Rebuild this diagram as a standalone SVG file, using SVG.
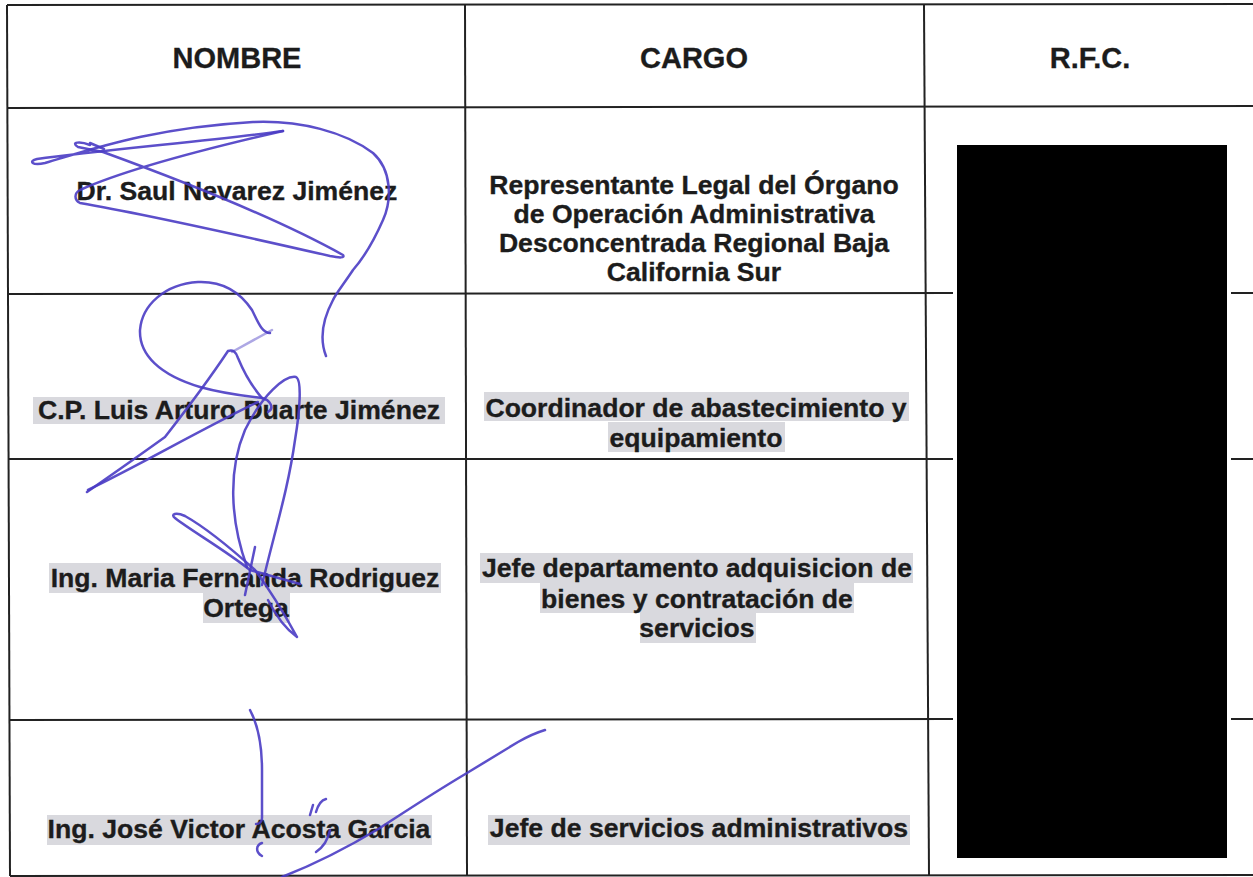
<svg xmlns="http://www.w3.org/2000/svg" width="1253" height="877" viewBox="0 0 1253 877">
<style>
.hd{font-family:"Liberation Sans",Arial,sans-serif;font-weight:bold;font-size:29px;fill:#1c1c1c;stroke:#1c1c1c;stroke-width:0.3;text-anchor:middle}
.tx{font-family:"Liberation Sans",Arial,sans-serif;font-weight:bold;font-size:26.6px;fill:#1c1c1c;stroke:#1c1c1c;stroke-width:0.35;text-anchor:middle}
.ln{stroke:#222;stroke-width:2;fill:none}
.hl{fill:#d9d9de}
.sig{stroke:#4a3cc4;stroke-width:2.5;fill:none;stroke-linecap:round;stroke-linejoin:round;opacity:0.9}
</style>
<rect width="1253" height="877" fill="#fff"/>
<g id="grid">
<path class="ln" d="M7,5 L1253,4"/>
<path class="ln" d="M7,108 L1253,106"/>
<path class="ln" d="M8,294 L953,293 M1231,293 L1253,293"/>
<path class="ln" d="M8,459 L953,459 M1231,459 L1253,459"/>
<path class="ln" d="M9,720 L953,719 M1231,719 L1253,719"/>
<path class="ln" d="M10,876 L1253,875"/>
<path class="ln" d="M7,5 L10,876"/>
<path class="ln" d="M465,5 L467,876"/>
<path class="ln" d="M924,5 L929,876"/>
</g>
<g id="header">
<text class="hd" x="237" y="68">NOMBRE</text>
<text class="hd" x="694" y="68">CARGO</text>
<text class="hd" x="1090" y="68">R.F.C.</text>
</g>
<g id="highlights">
<rect class="hl" x="33" y="397" width="412" height="27"/>
<rect class="hl" x="484" y="392" width="425" height="29"/>
<rect class="hl" x="608" y="422" width="177" height="30"/>
<rect class="hl" x="49" y="563" width="392" height="30"/>
<rect class="hl" x="203" y="593" width="87" height="30"/>
<rect class="hl" x="480" y="553" width="433" height="30"/>
<rect class="hl" x="540" y="583" width="314" height="30"/>
<rect class="hl" x="640" y="613" width="116" height="30"/>
<rect class="hl" x="47" y="815" width="385" height="30"/>
<rect class="hl" x="488" y="815" width="422" height="30"/>
</g>
<g id="row1">
<text class="tx" x="237" y="200">Dr. Saul Nevarez Jiménez</text>
<text class="tx" x="694" y="194">Representante Legal del Órgano</text>
<text class="tx" x="694" y="223">de Operación Administrativa</text>
<text class="tx" x="694" y="252">Desconcentrada Regional Baja</text>
<text class="tx" x="694" y="281">California Sur</text>
</g>
<g id="row2">
<text class="tx" x="239" y="419">C.P. Luis Arturo Duarte Jiménez</text>
<text class="tx" x="696" y="417">Coordinador de abastecimiento y</text>
<text class="tx" x="696" y="447">equipamiento</text>
</g>
<g id="row3">
<text class="tx" x="245" y="587">Ing. Maria Fernanda Rodriguez</text>
<text class="tx" x="246" y="617">Ortega</text>
<text class="tx" x="697" y="577">Jefe departamento adquisicion de</text>
<text class="tx" x="697" y="608">bienes y contratación de</text>
<text class="tx" x="697" y="637">servicios</text>
</g>
<g id="row4">
<text class="tx" x="239" y="838">Ing. José Victor Acosta Garcia</text>
<text class="tx" x="699" y="837">Jefe de servicios administrativos</text>
</g>
<rect id="redaction" x="957" y="145" width="270" height="713" fill="#000"/>
<g id="signatures">
<path class="sig" d="M283,131 C220,140 100,150 37,159 C28,161 32,166 45,163 C90,150 150,128 253,122 C300,120 345,132 373,153 C392,170 392,200 383,220 C372,245 360,262 353,270 C343,285 335,295 333,300 C325,315 318,335 326,356"/>
<path class="sig" d="M90,145 C80,141 70,142 78,147 L103,152 C180,180 280,220 343,255 C345,258 340,258 330,256 C260,240 150,215 80,203 C74,200 74,193 80,190 C120,172 200,150 283,131"/>
<path class="sig" d="M90,143 L104,149"/>
<path class="sig" d="M270,333 C262,333 258,322 252,310 C240,292 222,281 198,282 C165,284 142,305 140,330 C139,355 160,375 200,387 C225,394 245,396 262,398 C270,400 275,408 268,412"/>
<path class="sig" d="M87,492 C110,476 140,455 165,437 C190,405 210,378 228,351 C233,349 236,352 238,358 C245,375 255,390 262,398"/>
<path class="sig" d="M88,490 C140,465 200,430 258,402"/>
<path class="sig" d="M232,352 L272,330" style="opacity:0.45"/>
<path class="sig" d="M247,567 C230,520 228,470 245,430 C262,395 285,375 296,377 C302,380 300,410 295,440 C288,490 275,530 262,585"/>
<path class="sig" d="M250,570 C225,550 190,530 175,518 C170,514 176,512 185,516 C210,530 235,552 255,570 C270,590 285,615 297,637 C290,632 278,620 268,600"/>
<path class="sig" d="M255,547 L245,595"/>
<path class="sig" d="M250,570 L300,584"/>
<path class="sig" d="M250,710 C258,725 262,745 262,770 L262,818 C262,822 259,824 256,824"/>
<path class="sig" d="M262,843 C256,845 255,852 262,856"/>
<path class="sig" d="M310,815 L313,805 M316,812 C318,805 322,800 326,799"/>
<path class="sig" d="M545,730 C535,733 525,738 518,742 L467,773 C430,795 400,815 380,828 C340,852 305,868 282,877"/>
<path class="sig" d="M330,830 C328,840 322,848 316,852"/>
</g>
</svg>
